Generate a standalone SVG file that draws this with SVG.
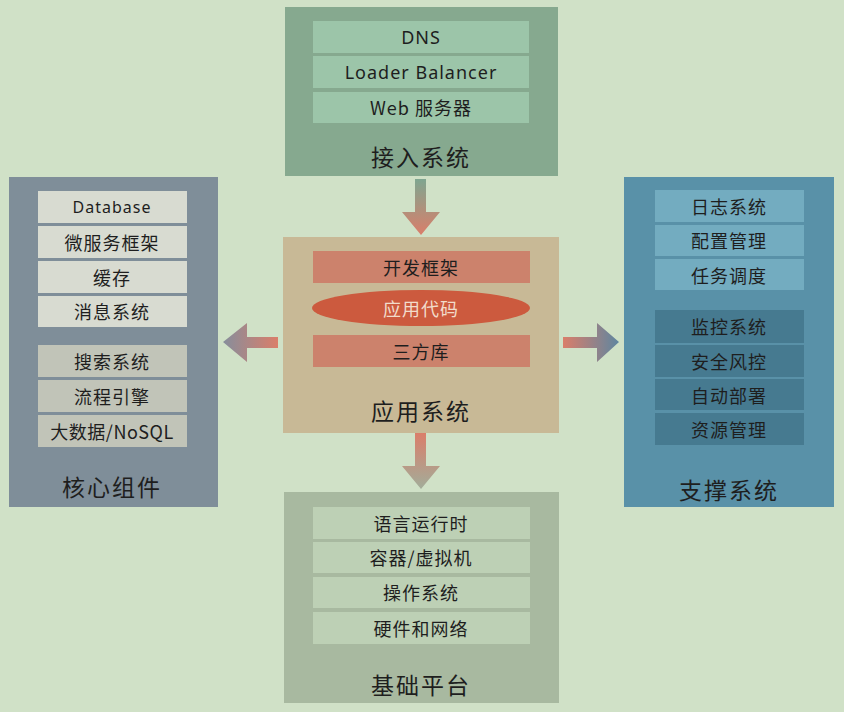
<svg xmlns="http://www.w3.org/2000/svg" width="844" height="712" viewBox="0 0 844 712">
<defs>
<style>
text{font-family:"Noto Sans CJK SC","Noto Sans",sans-serif;fill:#1e1e1e;text-anchor:middle;dominant-baseline:central}
.row{font-size:18px;letter-spacing:1px}
.title{font-size:23px;letter-spacing:2px}
.en{font-family:"Noto Sans","Noto Sans CJK SC",sans-serif}
</style>
<linearGradient id="gTop" x1="0" y1="0" x2="0" y2="1"><stop offset="0" stop-color="#7ea690"/><stop offset="1" stop-color="#da7e6a"/></linearGradient>
<linearGradient id="gBot" x1="0" y1="0" x2="0" y2="1"><stop offset="0" stop-color="#da7e6a"/><stop offset="1" stop-color="#a2ad9a"/></linearGradient>
<linearGradient id="gLeft" x1="0" y1="0" x2="1" y2="0"><stop offset="0" stop-color="#868e9c"/><stop offset="1" stop-color="#da7e6a"/></linearGradient>
<linearGradient id="gRight" x1="0" y1="0" x2="1" y2="0"><stop offset="0" stop-color="#da7e6a"/><stop offset="1" stop-color="#5e86a0"/></linearGradient>
</defs>
<rect width="844" height="712" fill="#d0e1c7"/>

<g id="connectors">
<path d="M415,179 H426 V212 H440 L421,235 L402,212 H415 Z" fill="url(#gTop)"/>
<path d="M415,433 H426 V466 H440 L421,489 L402,466 H415 Z" fill="url(#gBot)"/>
<path d="M278,337 V348 H247 V362 L223,342 L247,323 V337 Z" fill="url(#gLeft)"/>
<path d="M563,337 V348 H597 V362 L619,342 L597,323 V337 Z" fill="url(#gRight)"/>
</g>

<g id="access">
<rect x="285" y="7" width="273" height="169" fill="#86a98f"/>
<rect x="313" y="21" width="216" height="32" fill="#9cc5a9"/>
<rect x="313" y="56" width="216" height="32" fill="#9cc5a9"/>
<rect x="313" y="92" width="216" height="31" fill="#9cc5a9"/>
<text class="row en" x="421" y="37">DNS</text>
<text class="row en" x="421" y="72">Loader Balancer</text>
<text class="row" x="421" y="107">Web 服务器</text>
<text class="title" x="421" y="156">接入系统</text>
</g>

<g id="core">
<rect x="9" y="177" width="209" height="330" fill="#7f8e99"/>
<rect x="38" y="191" width="149" height="32" fill="#d8dbd1"/>
<rect x="38" y="226" width="149" height="32" fill="#d8dbd1"/>
<rect x="38" y="261" width="149" height="32" fill="#d8dbd1"/>
<rect x="38" y="296" width="149" height="31" fill="#d8dbd1"/>
<rect x="38" y="345" width="149" height="32" fill="#c1c4b8"/>
<rect x="38" y="380" width="149" height="32" fill="#c1c4b8"/>
<rect x="38" y="415" width="149" height="32" fill="#c1c4b8"/>
<text class="row en" x="112" y="207" style="font-size:16px">Database</text>
<text class="row" x="112" y="242">微服务框架</text>
<text class="row" x="112" y="277">缓存</text>
<text class="row" x="112" y="311">消息系统</text>
<text class="row" x="112" y="361">搜索系统</text>
<text class="row" x="112" y="396">流程引擎</text>
<text class="row" x="112" y="431" style="letter-spacing:0.5px">大数据/NoSQL</text>
<text class="title" x="112" y="486">核心组件</text>
</g>

<g id="app">
<rect x="283" y="237" width="276" height="196" fill="#c8b996"/>
<rect x="313" y="251" width="217" height="32" fill="#cc826c"/>
<ellipse cx="421" cy="308" rx="109" ry="18" fill="#cc5a3e"/>
<rect x="313" y="335" width="217" height="32" fill="#cc826c"/>
<text class="row" x="421" y="267">开发框架</text>
<text class="row" x="421" y="308" style="fill:#f2dccb">应用代码</text>
<text class="row" x="421" y="351">三方库</text>
<text class="title" x="421" y="410">应用系统</text>
</g>

<g id="support">
<rect x="624" y="177" width="210" height="330" fill="#5991a8"/>
<rect x="655" y="190" width="149" height="32" fill="#73acc0"/>
<rect x="655" y="225" width="149" height="31" fill="#73acc0"/>
<rect x="655" y="259" width="149" height="31" fill="#73acc0"/>
<rect x="655" y="310" width="149" height="33" fill="#467a90"/>
<rect x="655" y="345" width="149" height="32" fill="#467a90"/>
<rect x="655" y="379" width="149" height="31" fill="#467a90"/>
<rect x="655" y="413" width="149" height="32" fill="#467a90"/>
<text class="row" x="729" y="206">日志系统</text>
<text class="row" x="729" y="240">配置管理</text>
<text class="row" x="729" y="275">任务调度</text>
<text class="row" x="729" y="326">监控系统</text>
<text class="row" x="729" y="361">安全风控</text>
<text class="row" x="729" y="395">自动部署</text>
<text class="row" x="729" y="429">资源管理</text>
<text class="title" x="729" y="489">支撑系统</text>
</g>

<g id="base">
<rect x="284" y="492" width="275" height="211" fill="#a8b9a0"/>
<rect x="313" y="507" width="217" height="32" fill="#bdd0b5"/>
<rect x="313" y="542" width="217" height="31" fill="#bdd0b5"/>
<rect x="313" y="577" width="217" height="31" fill="#bdd0b5"/>
<rect x="313" y="612" width="217" height="32" fill="#bdd0b5"/>
<text class="row" x="421" y="523">语言运行时</text>
<text class="row" x="421" y="557">容器/虚拟机</text>
<text class="row" x="421" y="592">操作系统</text>
<text class="row" x="421" y="628">硬件和网络</text>
<text class="title" x="421" y="684">基础平台</text>
</g>
</svg>
